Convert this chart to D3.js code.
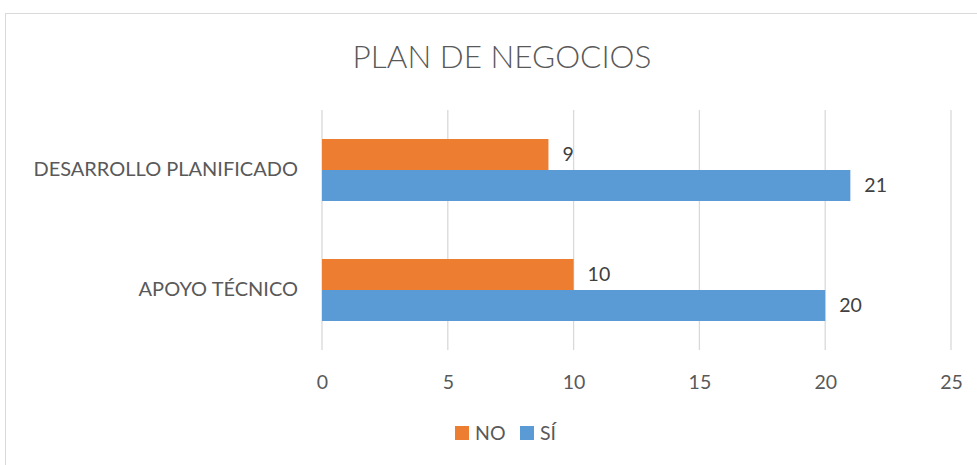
<!DOCTYPE html>
<html>
<head>
<meta charset="utf-8">
<script src="https://cdn.jsdelivr.net/npm/d3@7"></script>
<style>
  html, body { margin: 0; padding: 0; background: #fff; }
  svg { display: block; font-family: Lato, "Open Sans", sans-serif; }
</style>
</head>
<body>
<svg id="chart" width="977" height="465"></svg>
<script>
// Survey results: business plan
const categories = ["DESARROLLO PLANIFICADO", "APOYO TÉCNICO"];
const seriesNames = ["NO", "SÍ"];
const noValues = [9, 10];
const siValues = [21, 20];
const xTicks = [0, 5, 10, 15, 20, 25];
const colors = ["#ED7D31", "#5B9BD5"];

const svg = d3.select("#chart");
const W = 977, H = 465;
const font = "Lato, 'Open Sans', sans-serif";

// outer chart frame
svg.append("rect")
  .attr("x", 5.5).attr("y", 13.5)
  .attr("width", W + 10).attr("height", H + 10)
  .attr("fill", "#fff").attr("stroke", "#D9D9D9").attr("stroke-width", 1);

const plot = { left: 322, right: 951, top: 110, bottom: 350 };

const x = d3.scaleLinear().domain([0, 25]).range([plot.left, plot.right]);
const y0 = d3.scaleBand().domain(categories).range([plot.top, plot.bottom]);
const barH = 31;
const y1 = d3.scaleBand().domain(seriesNames).range([-barH, barH]);

// title
svg.append("text")
  .attr("x", 502).attr("y", 68)
  .attr("text-anchor", "middle")
  .attr("font-size", 31.5).attr("font-weight", 300)
  .attr("fill", "#595959")
  .text("PLAN DE NEGOCIOS");

// vertical gridlines
svg.append("g").selectAll("line")
  .data(xTicks).join("line")
  .attr("x1", d => x(d)).attr("x2", d => x(d))
  .attr("y1", plot.top).attr("y2", plot.bottom)
  .attr("stroke", "#D9D9D9").attr("stroke-width", 1.3);

// x axis tick labels
const xAxis = d3.axisBottom(x).tickValues(xTicks).tickSize(0).tickPadding(0);
const gx = svg.append("g").attr("transform", `translate(0,${plot.bottom + 39})`).call(xAxis);
gx.select(".domain").remove();
gx.selectAll("text").attr("font-size", 19.5).attr("fill", "#595959")
  .attr("font-family", font).attr("dy", 0);

// category axis labels
const yAxis = d3.axisLeft(y0).tickSize(0).tickPadding(0);
const gy = svg.append("g").attr("transform", `translate(${plot.left - 24},0)`).call(yAxis);
gy.select(".domain").remove();
gy.selectAll("text").attr("font-size", 20).attr("fill", "#595959")
  .attr("font-family", font);

// bars
const rows = categories.map((c, i) => ({ cat: c, vals: [noValues[i], siValues[i]] }));
const groups = svg.append("g").selectAll("g")
  .data(rows).join("g")
  .attr("transform", d => `translate(0,${y0(d.cat) + y0.bandwidth() / 2})`);

groups.selectAll("rect")
  .data(d => d.vals.map((v, k) => ({ name: seriesNames[k], v, k })))
  .join("rect")
  .attr("x", x(0))
  .attr("y", d => y1(d.name))
  .attr("width", d => x(d.v) - x(0))
  .attr("height", y1.bandwidth())
  .attr("fill", d => colors[d.k]);

groups.selectAll("text.val")
  .data(d => d.vals.map((v, k) => ({ name: seriesNames[k], v, k })))
  .join("text")
  .attr("class", "val")
  .attr("x", d => x(d.v) + 14)
  .attr("y", d => y1(d.name) + y1.bandwidth() / 2)
  .attr("dy", "0.35em")
  .attr("font-size", 19.5).attr("fill", "#404040")
  .text(d => d.v);

// legend
const legend = svg.append("g").attr("transform", "translate(455,433)");
const lx = [0, 65];
seriesNames.forEach((n, k) => {
  const g = legend.append("g").attr("transform", `translate(${lx[k]},0)`);
  g.append("rect").attr("x", 0).attr("y", -7).attr("width", 14).attr("height", 14).attr("fill", colors[k]);
  g.append("text").attr("x", 20).attr("y", 0).attr("dy", "0.35em")
    .attr("font-size", 19.5).attr("fill", "#595959").text(n);
});
</script>
</body>
</html>
